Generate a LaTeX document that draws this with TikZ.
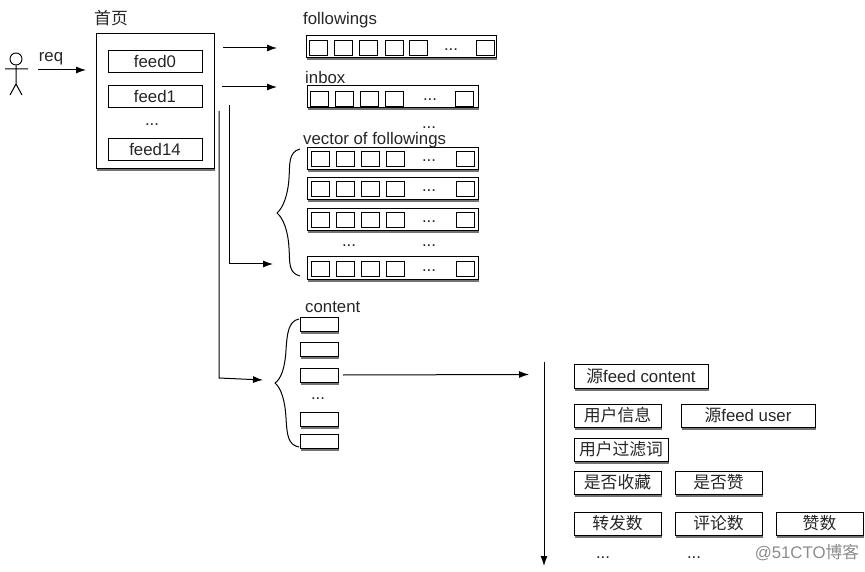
\documentclass[tikz,border=0pt]{standalone}
\usepackage{fontspec}
\setmainfont{Liberation Sans}
\newfontfamily\cjk{Noto Sans CJK SC}
\usetikzlibrary{shadows, arrows.meta}

\begin{document}
\begin{tikzpicture}[x=1pt,y=-1pt,
                    every node/.style={font=\fontsize{16.8}{18}\selectfont,text=black!85,inner sep=0pt},
                    box/.style={draw,line width=1pt,fill=white,general shadow={shadow xshift=0.5pt,shadow yshift=-2.5pt,fill=black,opacity=0.55}},
                    page box/.style={box,minimum width=118pt,minimum height=135pt},
                    feed box/.style={draw,line width=0.9pt,fill=white,minimum width=94pt,minimum height=22pt},
                    row box/.style={box,minimum width=171pt,minimum height=22pt},
                    cell box/.style={draw,line width=0.8pt,fill=white,minimum width=18pt,minimum height=15pt},
                    content box/.style={box,minimum width=38pt,minimum height=14pt},
                    field box/.style={box,minimum width=87pt,minimum height=23pt},
                    flow arrow/.style={-{Latex[length=10pt,width=7pt]},line width=1pt},
                    flow line/.style={line width=1pt},
                    brace line/.style={line width=1pt},
                   ]
  \useasboundingbox (0,0) rectangle (865,572);

  % person
  \node[draw,line width=0.9pt,circle,minimum size=12pt] (head) at (16,59) {};
  \coordinate (hip) at (16,84);
  \coordinate (left-hand) at (5,69);
  \coordinate (right-hand) at (28,69);
  \coordinate (left-foot) at (10,95);
  \coordinate (right-foot) at (22,95);
  \draw[flow line] (head) -- (hip) (left-hand) -- (right-hand) (left-foot) -- (hip) -- (right-foot);
  \node (req) at (51,59) {req};
  \coordinate (req-start) at (38,70);
  \coordinate (req-end) at (86,70);
  \draw[flow arrow] (req-start) -- (req-end);

  % home page
  \node (home-label) at (111,18) {\cjk 首页};
  \node[page box] (home) at (155,101.5) {};
  \node[feed box] (feed0) at (155,61) {feed0};
  \node[feed box] (feed1) at (155,96) {feed1};
  \node (feed-dots) at (152,125) {...};
  \node[feed box] (feed14) at (155,149) {feed14};

  % followings
  \node[anchor=west] (followings-label) at (303,20) {followings};
  \node[row box,minimum width=190pt] (followings) at (401,47) {};
  \node[cell box] (fa) at (318,48) {};
  \node[cell box] (fb) at (343,48) {};
  \node[cell box] (fc) at (368,48) {};
  \node[cell box] (fd) at (394,48) {};
  \node[cell box] (fe) at (418,48) {};
  \node (fdots) at (451,50) {...};
  \node[cell box] (ff) at (485,48) {};

  % inbox
  \node[anchor=west] (inbox-label) at (305,77) {inbox};
  \node[row box] (inbox) at (393,97) {};
  \node[cell box] (ia) at (319,99) {};
  \node[cell box] (ib) at (344,99) {};
  \node[cell box] (ic) at (369,99) {};
  \node[cell box] (id) at (394,99) {};
  \node (idots) at (430,100) {...};
  \node[cell box] (ie) at (464,99) {};
  \node (inbox-dots) at (429,128) {...};

  % vector of followings
  \node[anchor=west] (vector-label) at (303,140) {vector of followings};
  \node[row box] (va) at (393,159) {};
  \node[cell box] (va1) at (320,159) {};
  \node[cell box] (va2) at (345,159) {};
  \node[cell box] (va3) at (370,159) {};
  \node[cell box] (va4) at (395,159) {};
  \node (vadots) at (429,161) {...};
  \node[cell box] (va5) at (465,159) {};
  \node[row box] (vb) at (393,189) {};
  \node[cell box] (vb1) at (320,189) {};
  \node[cell box] (vb2) at (345,189) {};
  \node[cell box] (vb3) at (370,189) {};
  \node[cell box] (vb4) at (395,189) {};
  \node (vbdots) at (429,191) {...};
  \node[cell box] (vb5) at (465,189) {};
  \node[row box] (vc) at (393,220) {};
  \node[cell box] (vc1) at (320,220) {};
  \node[cell box] (vc2) at (345,220) {};
  \node[cell box] (vc3) at (370,220) {};
  \node[cell box] (vc4) at (395,220) {};
  \node (vcdots) at (429,222) {...};
  \node[cell box] (vc5) at (465,220) {};
  \node (vgap-a) at (349,246) {...};
  \node (vgap-b) at (429,246) {...};
  \node[row box] (vd) at (393,268) {};
  \node[cell box] (vd1) at (320,269) {};
  \node[cell box] (vd2) at (345,269) {};
  \node[cell box] (vd3) at (370,269) {};
  \node[cell box] (vd4) at (395,269) {};
  \node (vddots) at (429,271) {...};
  \node[cell box] (vd5) at (465,269) {};
  \draw[brace line] (300,149) .. controls (288,152) and (290,165) .. (289,178) .. controls (288,195) and (283,208) .. (277,213) .. controls (283,218) and (288,230) .. (289,248) .. controls (290,262) and (288,273) .. (300,276);

  % content
  \node[anchor=west] (content-label) at (305,307) {content};
  \node[content box] (ca) at (319,324.5) {};
  \node[content box] (cb) at (319,349.5) {};
  \node[content box] (cc) at (319,375.5) {};
  \node (cdots) at (318,399) {...};
  \node[content box] (cd) at (319,419.5) {};
  \node[content box] (ce) at (319,441) {};
  \draw[brace line] (299,319) .. controls (288,321) and (287,335) .. (286,350) .. controls (285,368) and (281,379) .. (275,383) .. controls (281,388) and (285,400) .. (286,418) .. controls (287,435) and (288,445) .. (299,447);

  % content fields
  \node[box,minimum width=134pt,minimum height=24pt] (source-content) at (641,376) {{\cjk 源}feed content};
  \node[field box] (user-info) at (617.5,415.5) {\cjk 用户信息};
  \node[box,minimum width=134pt,minimum height=23pt] (source-user) at (748,415.5) {{\cjk 源}feed user};
  \node[box,minimum width=94pt,minimum height=23pt] (user-filter) at (621,449.5) {\cjk 用户过滤词};
  \node[field box] (is-fav) at (617.5,482.5) {\cjk 是否收藏};
  \node[field box] (is-like) at (718.5,482.5) {\cjk 是否赞};
  \node[field box] (forwards) at (617.5,523.5) {\cjk 转发数};
  \node[field box] (comments) at (718.5,523.5) {\cjk 评论数};
  \node[field box] (likes) at (819.5,523.5) {\cjk 赞数};
  \node (field-dots-a) at (603,558) {...};
  \node (field-dots-b) at (694,558) {...};
  \node[text=black!45] (watermark) at (807,553) {@51CTO{\cjk 博客}};

  % connectors
  \coordinate (to-followings-start) at (223,48);
  \coordinate (to-followings-end) at (277,48);
  \coordinate (to-inbox-start) at (222,87);
  \coordinate (to-inbox-end) at (277,87);
  \coordinate (to-vector-start) at (229,105);
  \coordinate (to-vector-bend) at (229,264);
  \coordinate (to-vector-end) at (273,264);
  \coordinate (to-content-start) at (219,111);
  \coordinate (to-content-bend) at (219,378);
  \coordinate (to-content-end) at (263,380);
  \coordinate (to-fields-start) at (343,375);
  \coordinate (to-fields-end) at (529,374.5);
  \coordinate (fields-top) at (544,362);
  \coordinate (fields-bottom) at (544,566);
  \draw[flow arrow] (to-followings-start) -- (to-followings-end);
  \draw[flow arrow] (to-inbox-start) -- (to-inbox-end);
  \draw[flow arrow] (to-vector-start) -- (to-vector-bend) -- (to-vector-end);
  \draw[flow arrow] (to-content-start) -- (to-content-bend) -- (to-content-end);
  \draw[flow arrow] (to-fields-start) -- (to-fields-end);
  \draw[flow arrow] (fields-top) -- (fields-bottom);
\end{tikzpicture}
\end{document}
